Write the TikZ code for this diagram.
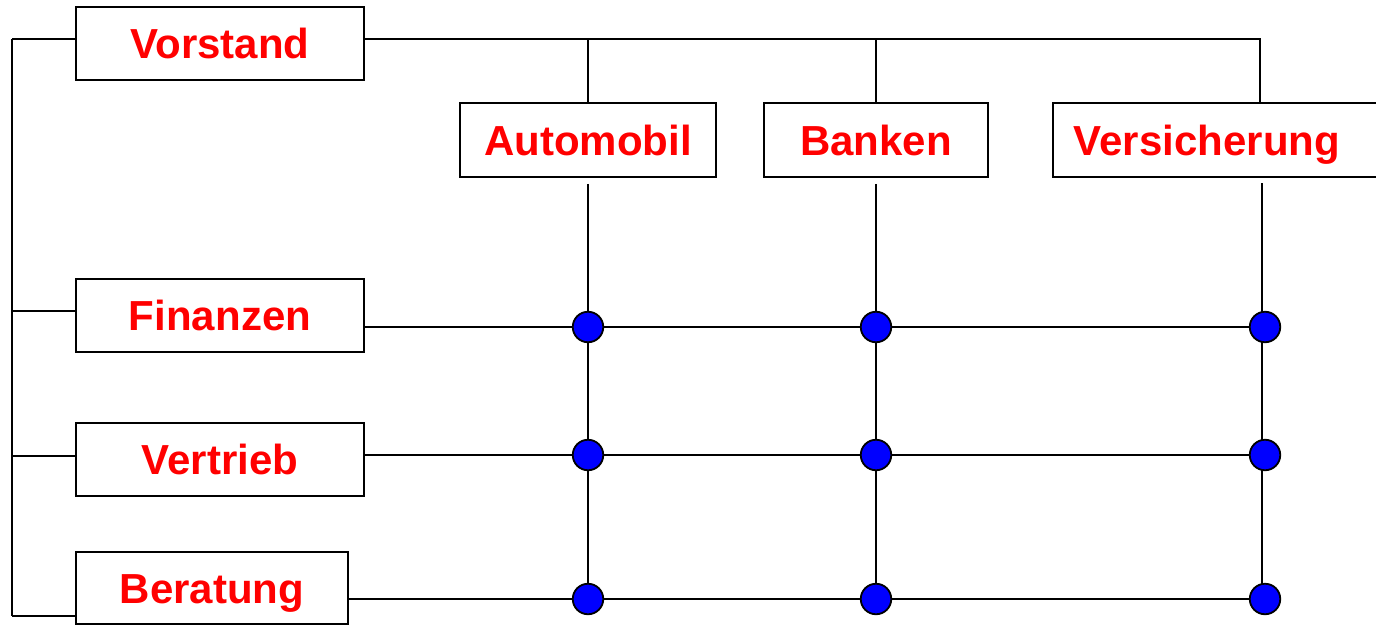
\documentclass[tikz,border=0pt]{standalone}
\usepackage{fontspec}
\setmainfont{Liberation Sans}
\usetikzlibrary{backgrounds}
\begin{document}
\begin{tikzpicture}[x=1pt,y=-1pt,
  wire/.style={line width=1.8pt},
  box/.style={draw, line width=1.8pt, inner sep=0pt, fill=white,
    text height=30pt, text depth=0pt, text=red,
    font=\fontsize{42}{50}\selectfont\bfseries},
  dot/.style={circle, draw, line width=1.8pt, fill=blue,
    minimum size=30.5pt, inner sep=0pt}]
\useasboundingbox (0,0) rectangle (1376,626);
\clip (0,0) rectangle (1376,626);

% units: rows
\node[box, minimum width=288pt, minimum height=73pt] (vorstand) at (220,43.5) {Vorstand};
\node[box, minimum width=288pt, minimum height=73pt] (finanzen) at (220,315.5) {Finanzen};
\node[box, minimum width=288pt, minimum height=73pt] (vertrieb) at (220,459.5) {Vertrieb};
\node[box, minimum width=272pt, minimum height=72pt] (beratung) at (212,588) {Beratung};

% units: columns
\node[box, minimum width=256pt, minimum height=74pt] (automobil) at (588,140) {Automobil};
\node[box, minimum width=224pt, minimum height=74pt] (banken) at (876,140) {Banken};
\node[box, anchor=west, minimum height=74pt, inner xsep=21pt,
      text width=310pt, align=left] (versicherung) at (1052,140) {Versicherung};

% matrix crossings
\foreach \r/\y in {1/327, 2/455, 3/599} {
  \node[dot] (a\r) at (588,\y) {};
  \node[dot] (b\r) at (876,\y) {};
  \node[dot] (v\r) at (1265,\y) {};
}

% helper points
\coordinate (busTop) at (12,39);
\coordinate (busBot) at (12,616);
\coordinate (tickF) at (12,311);
\coordinate (tickV) at (12,456);
\coordinate (topR) at (1260,39);
\coordinate (colV) at (1262,183);

\begin{scope}[on background layer]
  % staff bus on the left
  \draw[wire] (busTop) -- (busBot);
  \draw[wire] (busTop) -- (vorstand.west |- busTop);
  \draw[wire] (tickF) -- (finanzen.west |- tickF);
  \draw[wire] (tickV) -- (vertrieb.west |- tickV);
  \draw[wire] (busBot) -- (beratung.west |- busBot);

  % board to the divisions
  \draw[wire] (vorstand.east |- topR) -- (topR) -- (topR |- versicherung.north);
  \draw[wire] (automobil.north |- topR) -- (automobil.north);
  \draw[wire] (banken.north |- topR) -- (banken.north);

  % division columns
  \draw[wire] ([yshift=-6pt]automobil.south) -- (a3.center);
  \draw[wire] ([yshift=-6pt]banken.south) -- (b3.center);
  \draw[wire] (colV) -- (colV |- v3.center);

  % function rows
  \draw[wire] (finanzen.east |- a1) -- (v1.center);
  \draw[wire] (vertrieb.east |- a2) -- (v2.center);
  \draw[wire] (beratung.east |- a3) -- (v3.center);
\end{scope}
\end{tikzpicture}
\end{document}
